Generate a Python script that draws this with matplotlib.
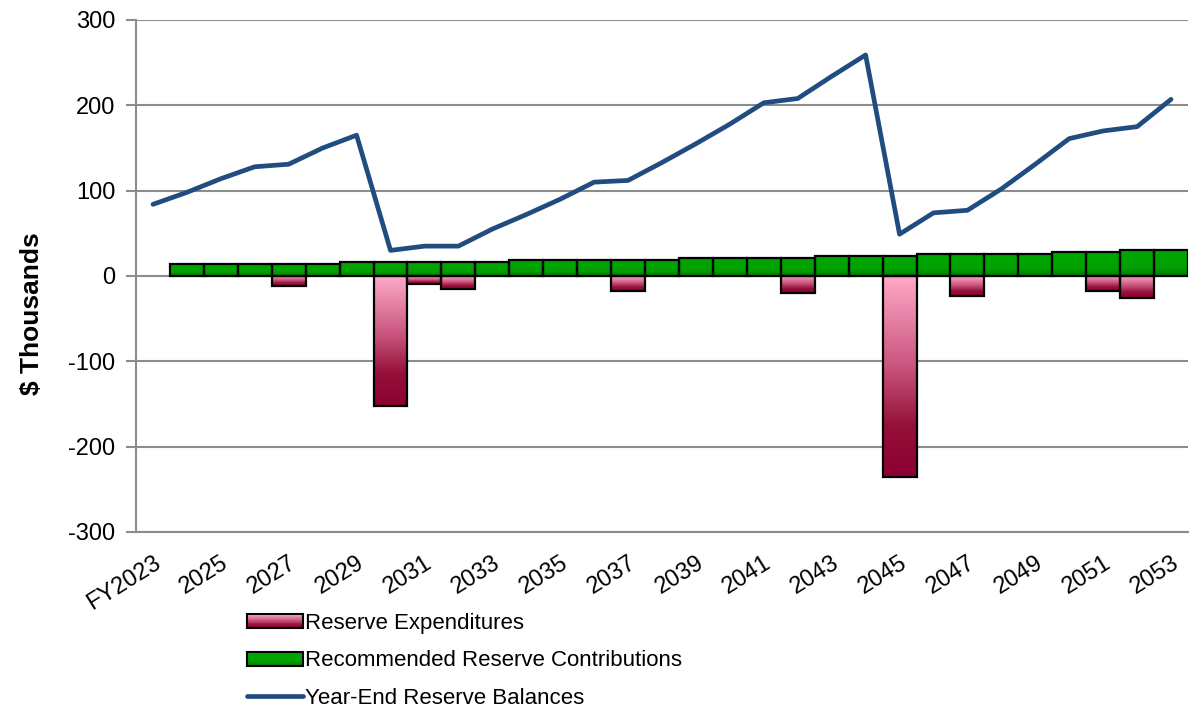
import numpy as np
import matplotlib
matplotlib.use('Agg')
import matplotlib.pyplot as plt
from matplotlib.colors import LinearSegmentedColormap
from matplotlib.legend_handler import HandlerBase
from matplotlib.patches import Rectangle, Patch
from matplotlib.lines import Line2D

plt.rcParams['font.family'] = ['Liberation Sans', 'DejaVu Sans']
plt.rcParams['axes.unicode_minus'] = False

years = ['FY2023'] + [str(y) for y in range(2024, 2054)]

# recommended reserve contributions ($ thousands), FY2023 has none
contributions = [0,
                 14.5, 14.5, 14.5, 14.5, 14.5,
                 16.8, 16.8, 16.8, 16.8, 16.0,
                 19, 19, 19, 19, 19,
                 21.5, 21.5, 21.5, 21.5,
                 24, 24, 24,
                 26, 26, 26, 26,
                 28, 28,
                 30.5, 30.5]

# reserve expenditures ($ thousands)
expenditures = [0,
                0, 0, 0, -12, 0,
                0, -152, -9, -15, 0,
                0, 0, 0, -17, 0,
                0, 0, 0, -20, 0,
                0, -236, 0, -23, 0,
                0, 0, -18, -26, 0]

# year-end reserve balances ($ thousands)
balances = [84, 98, 114, 128, 131, 150, 165, 30, 35, 35,
            55, 72, 90, 110, 112, 133, 155, 178, 203, 208,
            234, 259, 49, 74, 77, 102, 131, 161, 170, 175, 207]

red_cmap = LinearSegmentedColormap.from_list(
    'red', [(0, '#FFAAC8'), (0.45, '#C9557E'), (0.75, '#951038'), (1, '#8C0034')])
green_cmap = LinearSegmentedColormap.from_list(
    'green', [(0, '#00A800'), (0.7, '#00A000'), (1, '#007800')])
grad = np.linspace(0, 1, 256).reshape(-1, 1)


def gradient_bar(ax, x, h, cmap):
    bottom, top = min(0, h), max(0, h)
    # image rows go from top (cmap start) to bottom (cmap end)
    ax.imshow(grad, cmap=cmap, aspect='auto', interpolation='bicubic',
              extent=[x - 0.5, x + 0.5, bottom, top], origin='upper', zorder=2)
    ax.add_patch(Rectangle((x - 0.5, bottom), 1.0, top - bottom, facecolor='none',
                           edgecolor='black', linewidth=1.6, zorder=3))


class GradientHandler(HandlerBase):
    def __init__(self, cmap):
        super().__init__()
        self.cmap = cmap

    def create_artists(self, legend, orig_handle, xdescent, ydescent,
                       width, height, fontsize, trans):
        arts = []
        n = 20
        for k in range(n):
            y0 = -ydescent + height * (1 - (k + 1) / n)
            arts.append(Rectangle((-xdescent, y0), width, height / n,
                                  facecolor=self.cmap((k + 0.5) / n),
                                  edgecolor='none', transform=trans))
        arts.append(Rectangle((-xdescent, -ydescent), width, height, facecolor='none',
                              edgecolor='black', linewidth=1.5, transform=trans))
        return arts


fig = plt.figure(figsize=(11.9, 7.17), dpi=100)
ax = fig.add_axes([136 / 1190, 1 - 532 / 717, 1052 / 1190, 512 / 717])

x = np.arange(len(years))
for i in x:
    if contributions[i] != 0:
        gradient_bar(ax, i, contributions[i], green_cmap)
    if expenditures[i] != 0:
        gradient_bar(ax, i, expenditures[i], red_cmap)

ax.plot(x, balances, color='#214C80', linewidth=3.4, solid_joinstyle='round',
        solid_capstyle='round', zorder=4)

ax.set_xlim(-0.5, len(years) - 0.5)
ax.set_ylim(-300, 300)
ax.set_yticks(range(-300, 301, 100))
ax.yaxis.grid(True, color='#8C8C8C', linewidth=1.5)
ax.set_axisbelow(True)

ax.set_xticks(x[::2])
ax.set_xticklabels(years[::2], rotation=32, ha='right', va='top',
                   rotation_mode='anchor', fontsize=17)
ax.tick_params(axis='x', length=0, pad=14)
ax.tick_params(axis='y', length=7, width=1.5, color='#8C8C8C', labelsize=17, pad=8)

for s in ['top', 'right']:
    ax.spines[s].set_visible(False)
for s in ['left', 'bottom']:
    ax.spines[s].set_color('#8C8C8C')
    ax.spines[s].set_linewidth(1.5)

fig.text(32 / 1190, 1 - 314 / 717, '$ Thousands', rotation=90, ha='center',
         va='center', fontsize=19, fontweight='bold')

h_red = Patch(label='Reserve Expenditures')
h_green = Patch(label='Recommended Reserve Contributions')
h_line = Line2D([], [], color='#214C80', linewidth=3.4, solid_capstyle='round',
                label='Year-End Reserve Balances')
fig.legend(handles=[h_red, h_green, h_line],
           handler_map={h_red: GradientHandler(red_cmap),
                        h_green: GradientHandler(green_cmap)},
           loc='upper left', bbox_to_anchor=(247 / 1190, 1 - 613 / 717),
           frameon=False, fontsize=16, handlelength=2.5, handleheight=0.6,
           handletextpad=0.1, labelspacing=0.74, borderpad=0, borderaxespad=0)

fig.savefig('out.png', dpi=100)
